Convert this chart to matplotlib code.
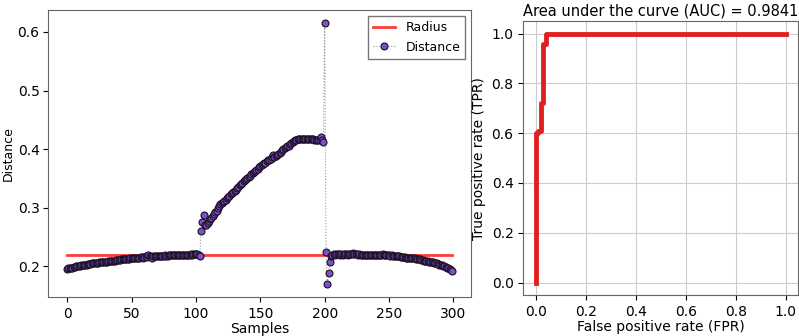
import numpy as np
import matplotlib.pyplot as plt

# distance of each sample
distance_a = [
    0.196, 0.197, 0.197, 0.198, 0.198, 0.199, 0.199, 0.200, 0.200, 0.201,
    0.201, 0.202, 0.202, 0.203, 0.203, 0.203, 0.204, 0.204, 0.204, 0.205,
    0.205, 0.205, 0.206, 0.206, 0.206, 0.207, 0.207, 0.207, 0.208, 0.208,
    0.208, 0.208, 0.209, 0.209, 0.209, 0.210, 0.210, 0.210, 0.211, 0.211,
    0.211, 0.211, 0.212, 0.212, 0.212, 0.212, 0.213, 0.213, 0.213, 0.214,
    0.214, 0.214, 0.214, 0.215, 0.215, 0.215, 0.215, 0.216, 0.216, 0.214,
    0.216, 0.217, 0.216, 0.219, 0.217, 0.216, 0.215, 0.217, 0.217, 0.217,
    0.217, 0.218, 0.217, 0.218, 0.218, 0.218, 0.219, 0.218, 0.218, 0.219,
    0.219, 0.219, 0.219, 0.220, 0.219, 0.220, 0.220, 0.219, 0.220, 0.220,
    0.220, 0.220, 0.220, 0.219, 0.220, 0.220, 0.221, 0.220, 0.221, 0.221,
    0.221, 0.221, 0.220, 0.218]
distance_b = [
    0.261, 0.275, 0.287, 0.270, 0.271, 0.274,
    0.277, 0.280, 0.283, 0.286, 0.289, 0.292, 0.295, 0.299, 0.303, 0.306,
    0.308, 0.310, 0.312, 0.314, 0.316, 0.318, 0.320, 0.323, 0.325, 0.327,
    0.329, 0.331, 0.334, 0.336, 0.338, 0.340, 0.342, 0.345, 0.347, 0.349,
    0.351, 0.353, 0.355, 0.357, 0.359, 0.361, 0.363, 0.365, 0.367, 0.369,
    0.371, 0.373, 0.374, 0.376, 0.377, 0.379, 0.381, 0.382, 0.384, 0.386,
    0.390, 0.387, 0.388, 0.390, 0.392, 0.394, 0.396, 0.398, 0.400, 0.402,
    0.403, 0.405, 0.406, 0.408, 0.410, 0.412, 0.414, 0.415, 0.416, 0.417,
    0.417, 0.418, 0.418, 0.418, 0.418, 0.418, 0.418, 0.417, 0.417, 0.417,
    0.417, 0.417, 0.416, 0.416, 0.416, 0.416, 0.415, 0.420, 0.415, 0.413]
distance_c = [
    0.615, 0.225, 0.170, 0.188, 0.207, 0.218, 0.220, 0.221, 0.220, 0.221,
    0.221, 0.221, 0.220, 0.221, 0.220, 0.221, 0.221, 0.221, 0.220, 0.221,
    0.221, 0.221, 0.222, 0.221, 0.221, 0.221, 0.220, 0.221, 0.220, 0.220,
    0.220, 0.220, 0.219, 0.220, 0.220, 0.219, 0.220, 0.220, 0.220, 0.220,
    0.220, 0.220, 0.220, 0.219, 0.220, 0.221, 0.220, 0.219, 0.219, 0.219,
    0.219, 0.218, 0.219, 0.218, 0.218, 0.217, 0.218, 0.217, 0.217, 0.216,
    0.216, 0.216, 0.216, 0.215, 0.215, 0.215, 0.214, 0.214, 0.215, 0.214,
    0.214, 0.213, 0.213, 0.212, 0.212, 0.211, 0.211, 0.210, 0.210, 0.209,
    0.209, 0.208, 0.208, 0.207, 0.207, 0.206, 0.206, 0.205, 0.204, 0.203,
    0.203, 0.202, 0.201, 0.200, 0.199, 0.198, 0.197, 0.196, 0.194, 0.192]
radius = 0.220

# roc curve points
fpr = [0.0, 0.0, 0.009, 0.009, 0.02, 0.02, 0.03, 0.03, 0.04, 0.04, 1.0]
tpr = [0.0, 0.6, 0.6, 0.61, 0.61, 0.72, 0.72, 0.96, 0.96, 1.0, 1.0]
auc = 0.9841

plt.rcParams['font.size'] = 10

distance = np.array(distance_a + distance_b + distance_c)
samples = np.arange(len(distance))

fig = plt.figure(figsize=(7.99, 3.36), dpi=100)

# left: distance per sample
ax1 = fig.add_axes([0.06, 0.116, 0.53, 0.854])
ax1.plot(samples, [radius] * len(samples), color='#ff3b3b', lw=2, label='Radius')
ax1.plot(samples, distance, ':', color='#999999', lw=0.8,
         marker='o', markersize=5, markerfacecolor='#7f4fc4',
         markeredgecolor='#1a1024', markeredgewidth=0.8, label='Distance')
ax1.set_xlabel('Samples', labelpad=1)
ax1.set_ylabel('Distance', fontsize=9)
ax1.yaxis.set_label_coords(-0.078, 0.5)
ax1.tick_params(axis='y', pad=2.5)
ax1.set_yticks([0.2, 0.3, 0.4, 0.5, 0.6])
ax1.legend(loc='upper right', fontsize=9, handlelength=1.8,
           fancybox=False, edgecolor='#555555')

# right: roc curve
ax2 = fig.add_axes([0.655, 0.122, 0.344, 0.815])
ax2.plot(fpr, tpr, color='#e02020', lw=3.5)
ax2.grid(True, color='#cccccc', lw=0.8)
ax2.set_xlabel('False positive rate (FPR)', labelpad=1)
ax2.set_ylabel('True positive rate (TPR)')
ax2.set_title('Area under the curve (AUC) = %.4f' % auc, fontsize=10.5, pad=4)

for ax in (ax1, ax2):
    for s in ax.spines.values():
        s.set_color('#666666')

fig.savefig('out.png', dpi=100)
